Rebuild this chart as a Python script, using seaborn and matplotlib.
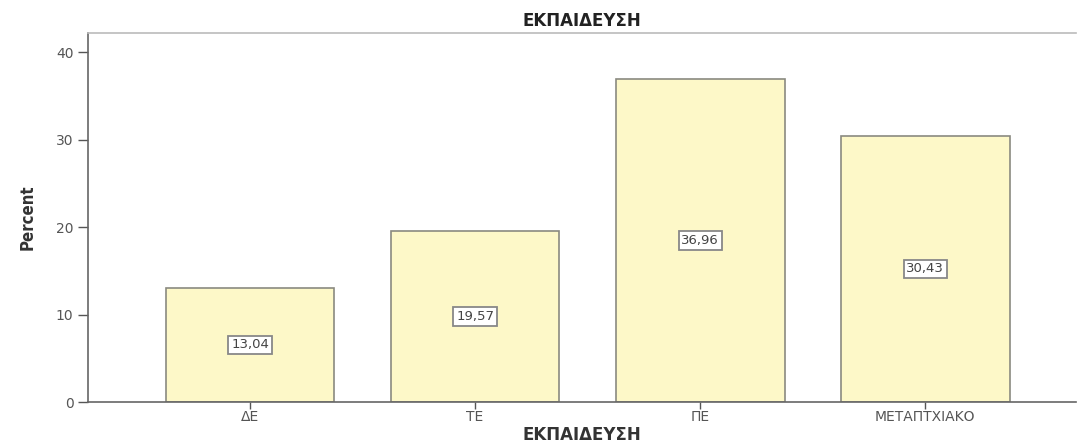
import matplotlib
matplotlib.use("Agg")
import matplotlib.pyplot as plt
import seaborn as sns
import pandas as pd

# δεδομένα
categories = ["ΔΕ", "ΤΕ", "ΠΕ", "ΜΕΤΑΠΤΧΙΑΚΟ"]
percent = [13.04, 19.57, 36.96, 30.43]
labels = ["13,04", "19,57", "36,96", "30,43"]

df = pd.DataFrame({"cat": categories, "pct": percent})

sns.set_style("white")
plt.rcParams['font.family'] = ['DejaVu Sans']

fig = plt.figure(figsize=(10.77, 4.42), dpi=100)
ax = fig.add_axes([88 / 1077, 40 / 442, 988 / 1077, 369 / 442])

sns.barplot(data=df, x="cat", y="pct", order=categories, color="#fdf8c8",
            edgecolor="#8a8a80", linewidth=1.2, width=0.75, saturation=1, ax=ax)

for i, (v, lab) in enumerate(zip(percent, labels)):
    ax.text(i, v / 2, lab, ha="center", va="center", fontsize=9.5, color="#444444",
            bbox=dict(boxstyle="square,pad=0.2", fc="white", ec="#888888", lw=1.3))

ax.set_ylim(0, 42.2)
ax.set_xlim(-0.72, 3.67)
ax.set_yticks([0, 10, 20, 30, 40])
ax.tick_params(axis="both", which="both", direction="out", length=7, width=1,
               color="#555555", labelcolor="#555555", labelsize=10, left=True, bottom=True)
ax.tick_params(axis="x", length=5, pad=1)

for s in ["left", "bottom"]:
    ax.spines[s].set_color("#666666")
    ax.spines[s].set_linewidth(1.2)
ax.spines["top"].set_color("#bbbbbb")
ax.spines["top"].set_linewidth(1.2)
ax.spines["right"].set_visible(False)

ax.set_xlabel("ΕΚΠΑΙΔΕΥΣΗ", fontsize=12, fontweight="bold", color="#333333", labelpad=1)
ax.set_ylabel("Percent", fontsize=12, fontweight="bold", color="#333333", labelpad=14,
              fontstretch="condensed", family=["Liberation Sans Narrow", "DejaVu Sans"])
ax.set_title("ΕΚΠΑΙΔΕΥΣΗ", fontsize=12, fontweight="semibold", color="#222222", pad=5)

fig.savefig("out.png", dpi=100)
